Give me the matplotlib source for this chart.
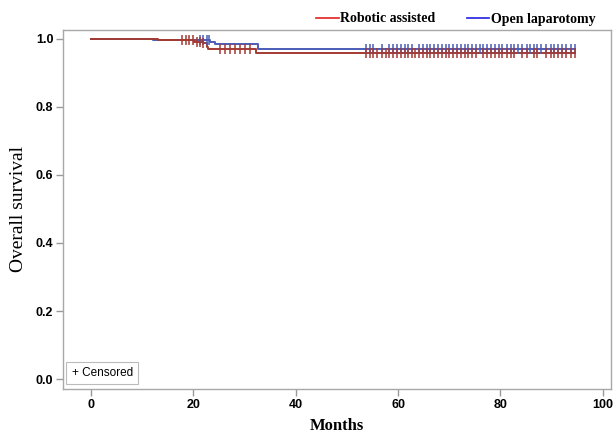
import numpy as np
import matplotlib
matplotlib.use("Agg")
import matplotlib.pyplot as plt
from matplotlib.lines import Line2D

# ---- data ----
red_label = "Robotic assisted"
blue_label = "Open laparotomy"

red_times = [0, 13.0, 20.2, 21.9, 22.6, 22.9, 32.3, 94.5]
red_surv = [1.0, 0.996, 0.990, 0.986, 0.976, 0.969, 0.957, 0.957]
blue_times = [0, 12.0, 23.3, 24.2, 32.6, 94.5]
blue_surv = [1.0, 0.996, 0.990, 0.984, 0.970, 0.970]

late_censor = [53.8, 54.5, 55.1, 55.9, 56.8, 57.6, 58.3, 59.0, 59.8, 60.5, 61.3,
               62.0, 62.8, 63.3, 64.1, 64.9, 65.6, 66.3, 67.1, 67.8, 68.5, 69.3,
               70.0, 70.8, 71.6, 72.3, 73.0, 73.7, 74.5, 75.2, 76.0, 76.6, 77.4,
               78.2, 78.9, 79.7, 80.4, 81.2, 82.0, 82.7, 83.5, 84.2, 85.1, 85.7,
               86.5, 87.2, 88.0, 89.0, 89.8, 90.4, 91.3, 92.0, 92.9, 93.7, 94.5]
red_only = [55.9, 57.6, 63.3]
blue_only = [76.0, 83.5, 85.7, 88.0]

red_censor = [17.8, 18.6, 19.2, 20.0, 20.6, 21.3, 21.9,
              25.2, 26.2, 27.1, 28.1, 29.1, 30.1, 31.1] + \
             [t for t in late_censor if t not in blue_only]
blue_censor = [21.3, 21.9, 22.6, 23.0] + \
              [t for t in late_censor if t not in red_only]

xticks = [0, 20, 40, 60, 80, 100]
yticks = [0.0, 0.2, 0.4, 0.6, 0.8, 1.0]

red_col = "#A33A33"
blue_col = "#4C5CB8"

def surv_at(times, surv, t):
    idx = np.searchsorted(times, t, side="right") - 1
    return np.asarray(surv)[idx]

fig = plt.figure(figsize=(6.14, 4.34), dpi=100)
ax = fig.add_axes([0.1026, 0.1037, 0.8924, 0.8273])

ax.step(blue_times, blue_surv, where="post", color=blue_col, lw=1.4, zorder=3)
ax.step(red_times, red_surv, where="post", color=red_col, lw=1.4, zorder=3)
ax.plot(blue_censor, surv_at(blue_times, blue_surv, blue_censor), ls="none",
        marker="|", ms=7, mew=1.1, color=blue_col, zorder=4)
ax.plot(red_censor, surv_at(red_times, red_surv, red_censor), ls="none",
        marker="|", ms=7, mew=1.1, color=red_col, zorder=4)

ax.set_xlim(-5.5, 101.6)
ax.set_ylim(-0.029, 1.0256)
ax.set_xticks(xticks)
ax.set_yticks(yticks)
ax.set_xticklabels([str(v) for v in xticks])
ax.set_yticklabels([f"{v:.1f}" for v in yticks])
for lab in ax.get_xticklabels() + ax.get_yticklabels():
    lab.set_fontfamily("Liberation Sans")
    lab.set_fontweight("bold")
    lab.set_fontsize(9)
ax.tick_params(axis="both", length=5, width=1, color="#999999", pad=2)
for s in ax.spines.values():
    s.set_color("#A8A8A8")
    s.set_linewidth(1.0)

ax.set_xlabel("Months", fontfamily="Liberation Serif", fontweight="bold",
              fontsize=12, labelpad=5)
ax.set_ylabel("Overall survival", fontfamily="Liberation Serif",
              fontsize=14, labelpad=6)

ax.text(0.016, 0.028, "+ Censored", transform=ax.transAxes,
        fontfamily="Liberation Sans", fontsize=8.5, ha="left", va="bottom",
        bbox=dict(boxstyle="square,pad=0.45", fc="white", ec="#BBBBBB", lw=0.8))

handles = [Line2D([], [], color="#E02020", lw=1.2),
           Line2D([], [], color="#2020E0", lw=1.2)]
fig.legend(handles, [red_label, blue_label], loc="upper right",
           bbox_to_anchor=(0.99, 1.0), ncol=2, frameon=False,
           prop=dict(family="Liberation Serif", weight="bold", size=10),
           handlelength=1.6, handletextpad=0.1, columnspacing=2.3)

fig.savefig("out.png", dpi=100)
